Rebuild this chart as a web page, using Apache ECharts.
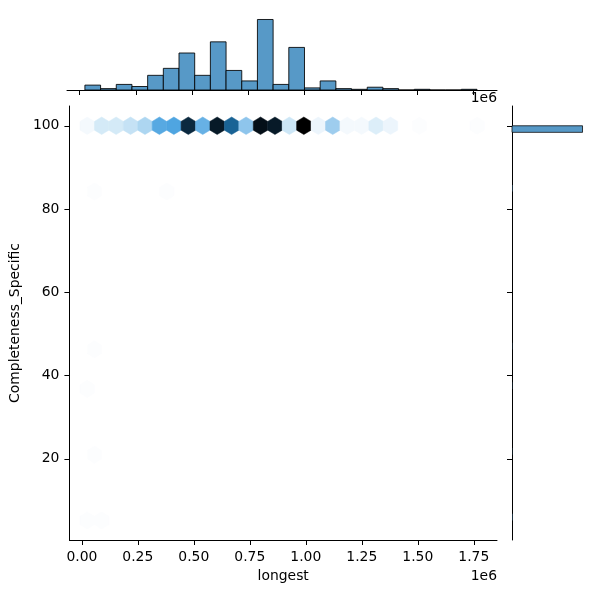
<!DOCTYPE html>
<html><head><meta charset="utf-8">
<script src="https://cdn.jsdelivr.net/npm/echarts@6/dist/echarts.min.js"></script>
<style>html,body{margin:0;padding:0;background:#fff}#c{width:600px;height:600px}</style>
</head><body><div id="c"></div>
<script>
// ---- data ----
const xTickValues = [0, 250000, 500000, 750000, 1000000, 1250000, 1500000, 1750000];
const yTickValues = [20, 40, 60, 80, 100];

// hexbin cells: centre (longest, Completeness_Specific) and count
const hexX = [24000, 88500, 153000, 217400, 281900, 346400, 410900, 475400, 539800, 604300,
              668800, 733300, 797800, 862300, 926700, 991200, 1055700, 1120200, 1184700, 1249100,
              1313600, 1378100, 1507100, 1765000,
              56200, 378600, 56200, 24000, 56200, 24000, 88500];
const hexY = [100, 100, 100, 100, 100, 100, 100, 100, 100, 100,
              100, 100, 100, 100, 100, 100, 100, 100, 100, 100,
              100, 100, 100, 100,
              84.2, 84.2, 46.3, 36.8, 21.0, 5.2, 5.2];
const hexCount = [2, 6, 6, 8, 11, 22, 23, 48, 20, 51,
                  37, 15, 53, 51, 7, 56, 3, 13, 2, 2,
                  5, 3, 1, 1,
                  1, 1, 1, 1, 1, 1, 1];

// marginal histogram of longest
const xHistEdges = [24000, 93640, 163280, 232920, 302560, 372200, 441840, 511480, 581120, 650760,
                    720400, 790040, 859680, 929320, 998960, 1068600, 1138240, 1207880, 1277520, 1347160,
                    1416800, 1486440, 1556080, 1625720, 1695360, 1765000];
const xHistCounts = [7, 2, 8, 5, 21, 31, 53, 21, 69, 28, 13, 101, 8, 61, 3, 13, 2, 1, 4, 2, 0, 1, 0, 0, 1];

// marginal histogram of Completeness_Specific (non-empty bins)
const yHistLow = [5.2, 21.0, 36.8, 46.28, 84.2, 98.42];
const yHistHigh = [6.78, 22.58, 38.38, 47.86, 85.78, 100];
const yHistCounts = [2, 1, 1, 1, 2, 447];

// ---- styling helpers ----
const FONT = '"DejaVu Sans", sans-serif';
const FS = 13.9;
const HEX_SX = 64481;   // hex width in x data units
const HEX_SY = 6.32;    // hex lattice step in y data units

function hls2rgb(h, l, s) {
  if (s === 0) return [l, l, l];
  const m2 = l <= 0.5 ? l * (1 + s) : l + s - l * s;
  const m1 = 2 * l - m2;
  function v(hue) {
    hue = ((hue % 1) + 1) % 1;
    if (hue < 1 / 6) return m1 + (m2 - m1) * hue * 6;
    if (hue < 0.5) return m2;
    if (hue < 2 / 3) return m1 + (m2 - m1) * (2 / 3 - hue) * 6;
    return m1;
  }
  return [v(h + 1 / 3), v(h), v(h - 1 / 3)];
}
const cmap = [];
for (let k = 0; k < 12; k++) {
  const l = 1 - k / 11;
  const c = hls2rgb(0.5682, l, 0.7061).map(x => Math.round(Math.max(0, Math.min(1, x)) * 255));
  cmap.push('rgb(' + c.join(',') + ')');
}

const hexData = hexX.map((x, i) => [x, hexY[i], hexCount[i]]);
const xHistData = xHistCounts.map((c, i) => [xHistEdges[i], xHistEdges[i + 1], c]);
const yHistData = yHistCounts.map((c, i) => [yHistLow[i], yHistHigh[i], c]);

const X_MIN = -55500, X_MAX = 1853700;
const Y_MIN = 0.5, Y_MAX = 104.75;

const axisLineStyle = { color: '#000', width: 1 };
const tickStyle = { color: '#000', width: 1 };

const chart = echarts.init(document.getElementById('c'), null, { renderer: 'canvas' });
chart.setOption({
  animation: false,
  backgroundColor: '#fff',
  textStyle: { fontFamily: FONT },
  grid: [
    { left: 67, top: 106, width: 430, height: 434 },
    { left: 67, top: 16, width: 430, height: 74 },
    { left: 512, top: 106, width: 74, height: 434 }
  ],
  xAxis: [
    {
      gridIndex: 0, type: 'value', min: X_MIN, max: X_MAX, position: 'bottom',
      axisLine: { show: true, onZero: false, lineStyle: axisLineStyle },
      axisTick: { show: true, length: 5, lineStyle: tickStyle, customValues: xTickValues },
      axisLabel: { show: true, margin: 10, color: '#000', fontSize: FS, fontFamily: FONT,
                   customValues: xTickValues, formatter: v => (v / 1e6).toFixed(2) },
      splitLine: { show: false },
      name: 'longest', nameLocation: 'middle', nameGap: 29,
      nameTextStyle: { color: '#000', fontSize: FS, fontFamily: FONT }
    },
    {
      gridIndex: 1, type: 'value', min: X_MIN, max: X_MAX, position: 'bottom',
      axisLine: { show: true, onZero: false, lineStyle: axisLineStyle },
      axisTick: { show: true, length: 5, lineStyle: tickStyle, customValues: xTickValues },
      axisLabel: { show: false },
      splitLine: { show: false }
    },
    {
      gridIndex: 2, type: 'value', min: 0, max: 469, show: false, splitLine: { show: false }
    }
  ],
  yAxis: [
    {
      gridIndex: 0, type: 'value', min: Y_MIN, max: Y_MAX, position: 'left',
      axisLine: { show: true, onZero: false, lineStyle: axisLineStyle },
      axisTick: { show: true, length: 5, lineStyle: tickStyle, customValues: yTickValues },
      axisLabel: { show: true, margin: 10, color: '#000', fontSize: FS, fontFamily: FONT,
                   customValues: yTickValues },
      splitLine: { show: false },
      name: 'Completeness_Specific', nameLocation: 'middle', nameGap: 42,
      nameTextStyle: { color: '#000', fontSize: FS, fontFamily: FONT }
    },
    {
      gridIndex: 1, type: 'value', min: 0, max: 106, show: false, splitLine: { show: false }
    },
    {
      gridIndex: 2, type: 'value', min: Y_MIN, max: Y_MAX, position: 'left',
      axisLine: { show: true, onZero: false, lineStyle: axisLineStyle },
      axisTick: { show: true, length: 5, lineStyle: tickStyle, customValues: yTickValues },
      axisLabel: { show: false },
      splitLine: { show: false }
    }
  ],
  visualMap: {
    show: false, type: 'continuous', seriesIndex: 0, dimension: 2,
    min: 0.6, max: 56, inRange: { color: cmap }
  },
  graphic: [
    { type: 'text', right: 103, top: 569, style: { text: '1e6', font: FS + 'px ' + FONT, fill: '#000' } },
    { type: 'text', right: 103, top: 91, style: { text: '1e6', font: FS + 'px ' + FONT, fill: '#000' } }
  ],
  series: [
    {
      type: 'custom', xAxisIndex: 0, yAxisIndex: 0,
      dimensions: ['x', 'y', 'count'],
      encode: { x: 0, y: 1 },
      data: hexData,
      renderItem: function (params, api) {
        const x = api.value(0), y = api.value(1);
        const offs = [[0.5, -1 / 6], [0.5, 1 / 6], [0, 1 / 3], [-0.5, 1 / 6], [-0.5, -1 / 6], [0, -1 / 3]];
        const pts = offs.map(o => api.coord([x + o[0] * HEX_SX, y + o[1] * HEX_SY]));
        const col = api.visual('color');
        return { type: 'polygon', shape: { points: pts }, style: { fill: col, stroke: col, lineWidth: 0.5 } };
      }
    },
    {
      type: 'custom', xAxisIndex: 1, yAxisIndex: 1,
      dimensions: ['x0', 'x1', 'count'],
      encode: { x: [0, 1], y: 2 },
      data: xHistData,
      renderItem: function (params, api) {
        const p0 = api.coord([api.value(0), 0]);
        const p1 = api.coord([api.value(1), api.value(2)]);
        return { type: 'rect',
          shape: { x: p0[0], y: p1[1], width: p1[0] - p0[0], height: p0[1] - p1[1] },
          style: { fill: '#5799c7', stroke: 'rgba(0,0,0,0.85)', lineWidth: 1 } };
      }
    },
    {
      type: 'custom', xAxisIndex: 2, yAxisIndex: 2,
      dimensions: ['y0', 'y1', 'count'],
      encode: { y: [0, 1], x: 2 },
      data: yHistData,
      renderItem: function (params, api) {
        const p0 = api.coord([0, api.value(0)]);
        const p1 = api.coord([api.value(2), api.value(1)]);
        const w = p1[0] - p0[0];
        return { type: 'rect',
          shape: { x: p0[0], y: p1[1], width: w, height: p0[1] - p1[1] },
          style: { fill: '#5799c7', stroke: w > 1 ? 'rgba(0,0,0,0.75)' : null, lineWidth: 1 } };
      }
    }
  ]
});
</script>
</body></html>
